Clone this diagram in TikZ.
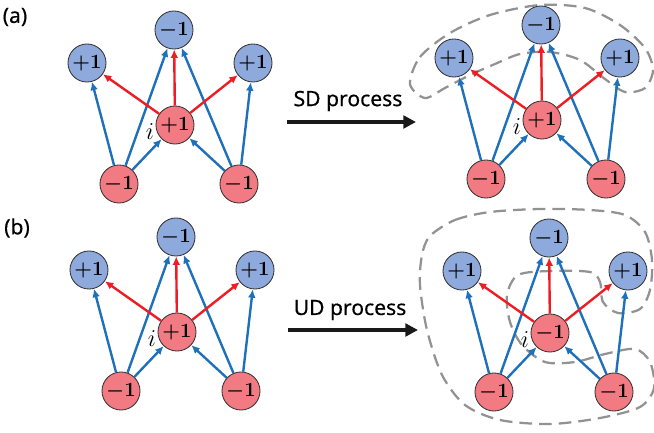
\documentclass[tikz,border=0pt]{standalone}
\usepackage{amsmath}
\usepackage{fontspec}
\newfontfamily\labelfont[FakeBold=0.4]{Noto Sans}
\usetikzlibrary{arrows.meta,positioning}
\definecolor{upblue}{HTML}{8EA9DB}
\definecolor{downred}{HTML}{F27B83}
\definecolor{edgeblue}{HTML}{1F70BA}
\definecolor{edgered}{HTML}{EE1D24}
\definecolor{domaingray}{HTML}{929292}
\tikzset{
  spin/.style={circle, draw=black!80, line width=0.6pt, minimum size=0.95cm, inner sep=0pt, font=\fontsize{14}{16}\selectfont},
  upspin/.style={spin, fill=upblue},
  downspin/.style={spin, fill=downred},
  bluelink/.style={->, edgeblue, line width=1.7pt},
  redlink/.style={->, edgered, line width=1.7pt},
  domainline/.style={domaingray, line width=1.6pt, dash pattern=on 9pt off 5pt},
  procarrow/.style={-{Triangle[length=9pt,width=9pt]}, line width=2.8pt, black!90},
  panellabel/.style={font=\labelfont\fontsize{15}{17}\selectfont, inner sep=0pt},
}

\begin{document}
\begin{tikzpicture}[x=0.025cm, y=-0.025cm, >={Latex[length=6pt,width=5.5pt]}]
	\useasboundingbox (0,0) rectangle (654,433);
	%\draw [help lines, step=20] (0,0) grid (654,433);

	% domains after the flip
	\draw [domainline] plot [smooth cycle] coordinates {(410,84) (420,57) (450,33) (490,15) (540,5) (585,8) (620,25) (645,48) (653,70) (645,88) (625,92) (605,79) (580,60) (550,52) (520,54) (495,64) (470,75) (445,88) (425,98)};
	\draw [domainline] plot [smooth cycle] coordinates {(430,236) (455,220) (490,212) (540,209) (590,210) (625,215) (645,232) (652,260) (650,290) (640,309) (618,313) (603,302) (600,282) (590,272) (550,271) (518,275) (507,295) (510,322) (522,345) (545,362) (575,362) (605,354) (635,349) (650,362) (654,388) (640,407) (600,418) (550,424) (500,420) (465,405) (442,375) (427,330) (420,285) (422,255)};

	\foreach \g/\cx/\cy/\lab in {a1/175/125/+1, a2/542/120/+1, b1/177/332/+1, b2/550/333/-1} {
		\begin{scope}[shift={(\cx,\cy)}]
			\node [upspin] (\g t) at (-1,-95) {$\boldsymbol{-1}$};
			\node [upspin] (\g l) at (-88,-62) {$\boldsymbol{+1}$};
			\node [upspin] (\g r) at (78,-62) {$\boldsymbol{+1}$};
			\node [downspin] (\g c) at (0,0) {$\boldsymbol{\lab}$};
			\node [downspin] (\g bl) at (-56,59) {$\boldsymbol{-1}$};
			\node [downspin] (\g br) at (64,59) {$\boldsymbol{-1}$};
		\end{scope}
		\node [anchor=east, inner sep=1pt, font=\fontsize{17}{19}\selectfont] (\g i) at ([yshift=-5pt]\g c.west) {$i$};
		\draw [bluelink] (\g bl) -- (\g l);
		\draw [bluelink] (\g bl) -- (\g t);
		\draw [bluelink] (\g bl) -- (\g c);
		\draw [bluelink] (\g br) -- (\g r);
		\draw [bluelink] (\g br) -- (\g t);
		\draw [bluelink] (\g br) -- (\g c);
		\draw [redlink] (\g c) -- (\g l);
		\draw [redlink] (\g c) -- (\g t);
		\draw [redlink] (\g c) -- (\g r);
	}

	\node [panellabel] (laba) at (15,17) {(a)};
	\node [panellabel] (labb) at (17,228) {(b)};

	\coordinate (sdstart) at (287,122);
	\coordinate (sdend) at (416,122);
	\draw [procarrow] (sdstart) -- (sdend);
	\node [panellabel] (sdtext) at (348,101) {SD process};

	\coordinate (udstart) at (288,330);
	\coordinate (udend) at (418,330);
	\draw [procarrow] (udstart) -- (udend);
	\node [panellabel] (udtext) at (350,310) {UD process};
\end{tikzpicture}
\end{document}
